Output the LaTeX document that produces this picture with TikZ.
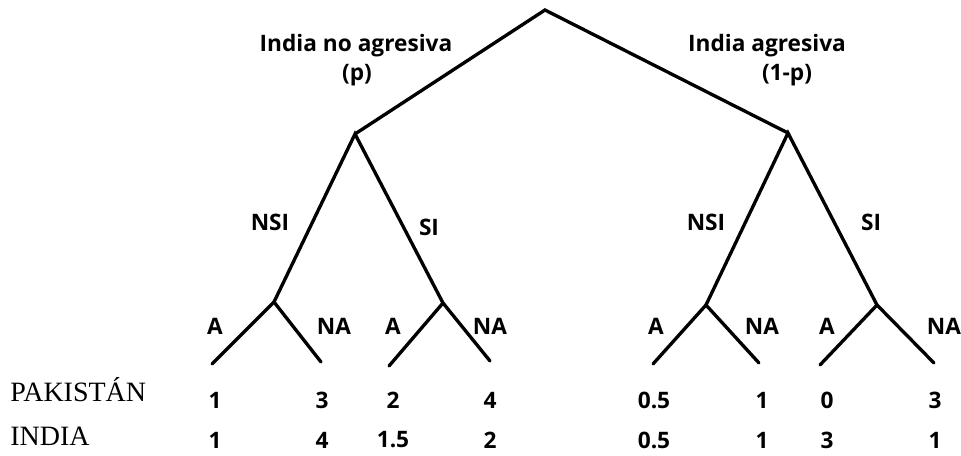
\documentclass[tikz,border=0pt]{standalone}
\usepackage{fontspec}
\setmainfont{Liberation Serif}
\newfontfamily\lblfont{Open Sans}

\begin{document}
\begin{tikzpicture}[x=0.75pt,y=-0.75pt,
  branch/.style={line width=2.5pt,line cap=round,line join=miter},
  lbl/.style={font=\lblfont\bfseries\fontsize{17}{20}\selectfont,inner sep=0pt},
  player/.style={font=\fontsize{21}{23}\selectfont,anchor=base west,inner sep=0pt}]
\useasboundingbox (0,0) rectangle (961,456);

% ======================= tree points =======================
\coordinate (root) at (545,10);
\coordinate (nag)  at (355,134);   % India no agresiva
\coordinate (ag)   at (788,133);   % India agresiva
\coordinate (nagN) at (274,302);  \coordinate (nagS) at (443,303);
\coordinate (agN)  at (706,305);  \coordinate (agS)  at (877,305);
% leaves
\coordinate (nagNa) at (212,364); \coordinate (nagNn) at (321,362);
\coordinate (nagSa) at (389,366); \coordinate (nagSn) at (490,361);
\coordinate (agNa)  at (653,364); \coordinate (agNn)  at (759,363);
\coordinate (agSa)  at (820,365); \coordinate (agSn)  at (934,363);

% ======================= branches =======================
\draw[branch] (nag) -- (root) -- (ag);
\draw[branch] (nagN) -- (nag) -- (nagS);
\draw[branch] (agN) -- (ag) -- (agS);
\foreach \p in {nagN,nagS,agN,agS}
  {\draw[branch] (\p a) -- (\p) -- (\p n);}

% ======================= labels =======================
\node[lbl,anchor=base] (lnag)  at (356,52) {India no agresiva};
\node[lbl]             (lnagp) at (357,75) {(p)};
\node[lbl,anchor=base] (lag)   at (767,52) {India agresiva};
\node[lbl]             (lagp)  at (787,75) {(1-p)};
\node[lbl] (lnagN) at (270,222) {NSI};
\node[lbl] (lnagS) at (429,227) {SI};
\node[lbl] (lagN)  at (706,222) {NSI};
\node[lbl] (lagS)  at (871,222) {SI};
\foreach \x/\t/\n in {215/A/1,334/NA/2,393/A/3,490/NA/4,656/A/5,762/NA/6,827/A/7,944/NA/8}
  {\node[lbl] (act\n) at (\x,326) {\t};}

% ======================= payoffs =======================
\node[player] (pak) at (10,401) {PAKISTÁN};
\node[player] (ind) at (10,445) {INDIA};
\foreach \x/\vp/\vi/\n in {215/1/1/1,322/3/4/2,393/2/1.5/3,490/4/2/4,654/0.5/0.5/5,762/1/1/6,827/0/3/7,935/3/1/8}
  {\node[lbl] (pk\n) at (\x,400) {\vp};
   \node[lbl] (in\n) at (\x,440) {\vi};}

\end{tikzpicture}
\end{document}
